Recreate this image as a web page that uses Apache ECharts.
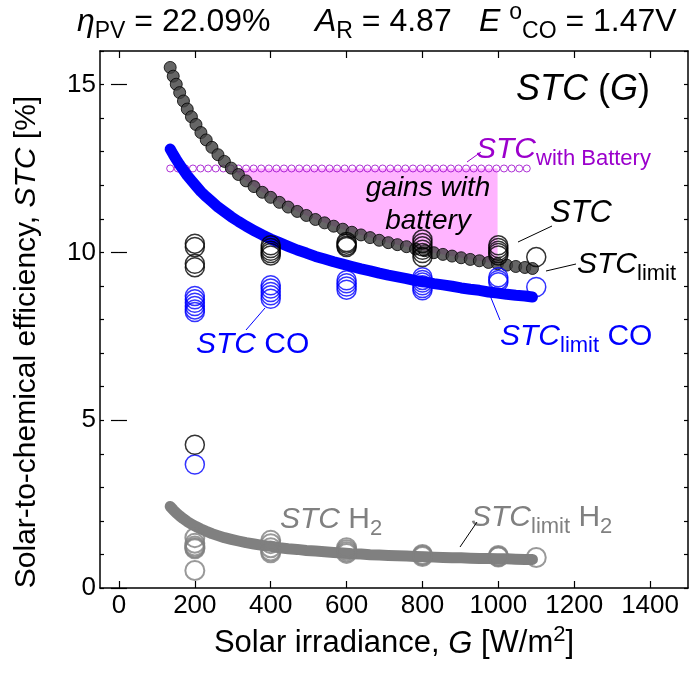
<!DOCTYPE html>
<html>
<head>
<meta charset="utf-8">
<script src="https://cdn.jsdelivr.net/npm/echarts@6/dist/echarts.min.js"></script>
<style>html,body{margin:0;padding:0;background:#fff}#c{width:689px;height:675px}</style>
</head>
<body>
<div id="c"></div>
<script>
// ---- data ----
const G = [135,143,151,160,170,180,191,203,216,230,245,261,278,296,315,335,356,378,400,423,446,470,494,518,542,566,590,614,638,662,686,710,734,758,782,806,830,854,878,902,926,950,974,998,1022,1046,1070,1090];
const stcTotal = [15.51,15.25,15.01,14.76,14.51,14.27,14.04,13.81,13.57,13.35,13.13,12.91,12.71,12.51,12.32,12.13,11.96,11.79,11.64,11.49,11.35,11.22,11.10,10.98,10.88,10.78,10.69,10.60,10.52,10.44,10.36,10.29,10.23,10.17,10.10,10.05,9.99,9.94,9.89,9.84,9.79,9.75,9.70,9.66,9.62,9.58,9.55,9.52];
const stcCO = [13.08,12.92,12.77,12.61,12.45,12.29,12.14,11.98,11.81,11.66,11.51,11.35,11.21,11.06,10.92,10.78,10.65,10.52,10.40,10.29,10.18,10.07,9.98,9.88,9.80,9.72,9.65,9.58,9.51,9.45,9.38,9.32,9.27,9.22,9.16,9.12,9.07,9.03,8.99,8.94,8.90,8.87,8.82,8.79,8.75,8.72,8.70,8.67];
const stcH2 = [2.43,2.33,2.24,2.15,2.06,1.98,1.90,1.83,1.76,1.69,1.62,1.56,1.50,1.45,1.40,1.35,1.31,1.27,1.24,1.20,1.17,1.15,1.12,1.10,1.08,1.06,1.04,1.02,1.01,0.99,0.98,0.97,0.96,0.95,0.94,0.93,0.92,0.91,0.90,0.90,0.89,0.88,0.88,0.87,0.87,0.86,0.85,0.85];
const batteryG = [135,155,175,195,215,235,255,275,295,315,335,355,375,395,415,435,455,475,495,515,535,555,575,595,615,635,655,675,695,715,735,755,775,795,815,835,855,875,895,915,935,955,975,995,1015,1035,1055,1075];
const stcBattery = [12.5,12.5,12.5,12.5,12.5,12.5,12.5,12.5,12.5,12.5,12.5,12.5,12.5,12.5,12.5,12.5,12.5,12.5,12.5,12.5,12.5,12.5,12.5,12.5,12.5,12.5,12.5,12.5,12.5,12.5,12.5,12.5,12.5,12.5,12.5,12.5,12.5,12.5,12.5,12.5,12.5,12.5,12.5,12.5,12.5,12.5,12.5,12.5];
const batteryLevel = 12.5;
const gainStartG = 292, gainEndG = 1000;

const expTotalG = [200,200,200,200,200,400,400,400,400,400,600,600,600,600,800,800,800,800,800,800,1000,1000,1000,1000,1000,1100];
const expTotal  = [10.26,10.16,9.66,9.56,4.27,10.21,10.13,10.05,9.98,9.91,10.31,10.26,10.2,10.16,10.38,10.28,10.18,10.08,9.98,9.86,10.21,10.13,10.05,9.98,9.91,9.86];
const expCOG = [200,200,200,200,200,200,200,400,400,400,400,400,600,600,600,600,800,800,800,800,800,800,1000,1000,1000,1100];
const expCO  = [8.7,8.6,8.5,8.4,8.3,8.22,3.68,9.02,8.92,8.82,8.72,8.62,9.17,9.08,8.98,8.89,9.26,9.18,9.1,9.02,8.94,8.87,9.26,9.18,9.11,8.97];
const expH2G = [200,200,200,200,200,200,400,400,400,400,400,600,600,600,600,800,800,800,1000,1000,1000,1100];
const expH2  = [1.5,1.33,1.25,1.2,1.17,0.52,1.42,1.32,1.2,1.1,1.05,1.2,1.14,1.08,1.03,1.0,0.97,0.94,0.97,0.94,0.92,0.91];

const xTicks = [0,200,400,600,800,1000,1200,1400];
const yMajor = [0,5,10,15];

// ---- build ----
const FF = '"Liberation Sans", Arial, sans-serif';
const zip = (a, b) => a.map((v, i) => [v, b[i]]);
// gain region: between battery level and the STC curve, from crossing to gainEndG
const gainCurve = [];
G.forEach((g, i) => { if (g >= gainStartG && g <= gainEndG) gainCurve.push([g, Math.min(stcTotal[i], batteryLevel)]); });

function rich(size, color) {
  const L = Math.round(size * 1.3);
  return {
    n:   {fontSize: size, fontFamily: FF, color: color, lineHeight: L, verticalAlign: 'middle'},
    i:   {fontSize: size, fontFamily: FF, fontStyle: 'italic', color: color, lineHeight: L, verticalAlign: 'middle'},
    sub: {fontSize: Math.round(size * 0.72), fontFamily: FF, color: color, verticalAlign: 'bottom'},
    sup: {fontSize: Math.round(size * 0.72), fontFamily: FF, color: color, verticalAlign: 'top'}
  };
}
function txt(x, y, text, size, color, align, rot) {
  return {
    type: 'text', x: x, y: y, z: 100, rotation: rot || 0,
    style: {text: text, rich: rich(size, color), fill: color, font: size + 'px ' + FF,
            align: align || 'left', verticalAlign: 'middle',
            textAlign: align || 'left', textVerticalAlign: 'middle'}
  };
}
function seg(x1, y1, x2, y2, color) {
  return {type: 'line', z: 100, shape: {x1, y1, x2, y2}, style: {stroke: color, lineWidth: 1}};
}

const axisLineStyle = {color: '#000', width: 1.5};
const tickStyle = {color: '#000', width: 1.2};
const chart = echarts.init(document.getElementById('c'));
chart.setOption({
  animation: false,
  backgroundColor: '#fff',
  grid: {left: 100, right: 1, top: 51, bottom: 87, containLabel: false, outerBoundsMode: 'none'},
  xAxis: [
    {type: 'value', min: -50, max: 1500, position: 'bottom', offset: 0,
     axisLine: {show: true, onZero: false, lineStyle: axisLineStyle},
     axisTick: {show: true, inside: true, length: 7, lineStyle: tickStyle, customValues: xTicks},
     axisLabel: {show: true, fontSize: 26, color: '#000', fontFamily: FF, margin: 5, customValues: xTicks,
                 formatter: v => String(v)},
     splitLine: {show: false},
     name: '{n|Solar irradiance, }{i|G}{n| [W/m}{sup|2}{n|]}', nameLocation: 'middle', nameGap: 25,
     nameTextStyle: {rich: rich(31, '#000')}},
    {type: 'value', min: -50, max: 1500, position: 'top', offset: 0,
     axisLine: {show: true, onZero: false, lineStyle: axisLineStyle},
     axisTick: {show: true, inside: true, length: 7, lineStyle: tickStyle, customValues: xTicks},
     axisLabel: {show: false}, splitLine: {show: false}}
  ],
  yAxis: [
    {type: 'value', min: 0, max: 16, interval: 1, position: 'left', offset: 0,
     axisLine: {show: true, onZero: false, lineStyle: axisLineStyle},
     axisTick: {show: true, inside: true, length: 4, lineStyle: tickStyle},
     axisLabel: {show: true, fontSize: 26, color: '#000', fontFamily: FF, margin: 4, customValues: yMajor},
     splitLine: {show: false}},
    {type: 'value', min: 0, max: 16, interval: 1, position: 'right', offset: 0,
     axisLine: {show: true, onZero: false, lineStyle: axisLineStyle},
     axisTick: {show: true, inside: true, length: 4, lineStyle: tickStyle},
     axisLabel: {show: false}, splitLine: {show: false}},
    {type: 'value', min: 0, max: 16, position: 'left', offset: 0,
     axisLine: {show: false}, axisTick: {show: true, inside: true, length: 8, lineStyle: tickStyle, customValues: yMajor},
     axisLabel: {show: false}, splitLine: {show: false}},
    {type: 'value', min: 0, max: 16, position: 'right', offset: 0,
     axisLine: {show: false}, axisTick: {show: true, inside: true, length: 8, lineStyle: tickStyle, customValues: yMajor},
     axisLabel: {show: false}, splitLine: {show: false}}
  ],
  series: [
    {type: 'custom', data: gainCurve, z: 1, silent: true,
     renderItem: function (params, api) {
       if (params.dataIndex !== 0) return null;
       const pts = [];
       pts.push(api.coord([gainCurve[0][0], batteryLevel]));
       pts.push(api.coord([gainCurve[gainCurve.length - 1][0], batteryLevel]));
       for (let k = gainCurve.length - 1; k >= 0; k--) pts.push(api.coord(gainCurve[k]));
       return {type: 'polygon', shape: {points: pts}, style: {fill: '#ffb4ff', stroke: null}};
     }},
    {type: 'scatter', data: zip(batteryG, stcBattery), symbol: 'circle', symbolSize: 7,
     itemStyle: {color: 'rgba(255,255,255,0)', borderColor: '#9b00cc', borderWidth: 1}, z: 3},
    {type: 'line', data: zip(G, stcH2), symbol: 'none', smooth: false, z: 4,
     lineStyle: {color: '#808080', width: 11, cap: 'round', join: 'round'}},
    {type: 'line', data: zip(G, stcCO), symbol: 'none', smooth: false, z: 4,
     lineStyle: {color: '#0000ff', width: 11, cap: 'round', join: 'round'}},
    {type: 'scatter', data: zip(G, stcTotal), symbol: 'circle', symbolSize: 12,
     itemStyle: {color: '#404040', borderColor: '#000', borderWidth: 1}, z: 5},
    {type: 'scatter', data: zip(expH2G, expH2), symbol: 'circle', symbolSize: 19,
     itemStyle: {color: 'rgba(255,255,255,0)', borderColor: '#808080', borderWidth: 2}, z: 6},
    {type: 'scatter', data: zip(expCOG, expCO), symbol: 'circle', symbolSize: 19,
     itemStyle: {color: 'rgba(255,255,255,0)', borderColor: '#0000ff', borderWidth: 1.5}, z: 6},
    {type: 'scatter', data: zip(expTotalG, expTotal), symbol: 'circle', symbolSize: 19,
     itemStyle: {color: 'rgba(255,255,255,0)', borderColor: '#000', borderWidth: 1.5}, z: 6}
  ],
  graphic: [
    txt(77, 22, '{i|η}{sub|PV}{n| = 22.09%}', 32, '#000'),
    txt(315, 22, '{i|A}{sub|R}{n| = 4.87}', 32, '#000'),
    txt(479, 22, '{i|E }{sup|o}{sub|CO}{n| = 1.47V}', 32, '#000'),
    txt(27, 342, '{n|Solar-to-chemical efficiency, }{i|STC}{n| [%]}', 30, '#000', 'center', Math.PI / 2),
    txt(650, 90, '{i|STC }{n|(}{i|G}{n|)}', 36, '#000', 'right'),
    txt(476, 150, '{i|STC}{sub|with Battery}', 30, '#9b00cc'),
    seg(467, 162, 481, 152, '#9b00cc'),
    txt(428, 188, '{i|gains with}', 28, '#000', 'center'),
    txt(428, 221, '{i|battery}', 28, '#000', 'center'),
    txt(550, 213, '{i|STC}', 31, '#000'),
    seg(518, 242, 552, 226, '#000'),
    txt(577, 265, '{i|STC}{sub|limit}', 30, '#000'),
    seg(546, 271, 576, 264, '#000'),
    txt(196, 345, '{i|STC}{n| CO}', 30, '#0000ff'),
    seg(246, 330, 265, 308, '#0000ff'),
    txt(500, 337, '{i|STC}{sub|limit}{n| CO}', 30, '#0000ff'),
    seg(489, 293, 500, 320, '#0000ff'),
    txt(280, 520, '{i|STC}{n| H}{sub|2}', 30, '#808080'),
    txt(471, 518, '{i|STC}{sub|limit}{n| H}{sub|2}', 30, '#808080'),
    seg(477, 522, 460, 547, '#000')
  ]
});
</script>
</body>
</html>
